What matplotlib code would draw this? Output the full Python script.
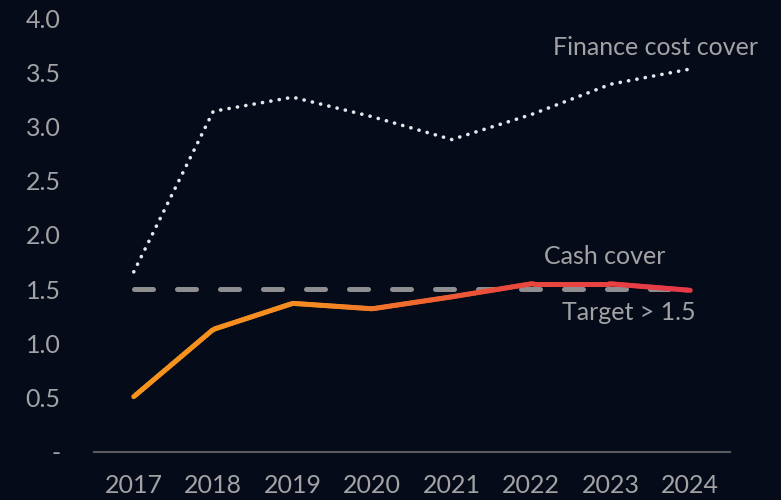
import numpy as np
import matplotlib.pyplot as plt
from matplotlib.collections import LineCollection
from matplotlib.colors import LinearSegmentedColormap

years = ["2017", "2018", "2019", "2020", "2021", "2022", "2023", "2024"]
finance_cost_cover = [1.66, 3.14, 3.27, 3.09, 2.88, 3.11, 3.39, 3.53]
cash_cover = [0.51, 1.13, 1.37, 1.32, 1.43, 1.55, 1.55, 1.49]
target = [1.5] * len(years)
y_ticks = [0, 0.5, 1.0, 1.5, 2.0, 2.5, 3.0, 3.5, 4.0]
y_labels = ["-", "0.5", "1.0", "1.5", "2.0", "2.5", "3.0", "3.5", "4.0"]

bg = "#050b18"
txt = "#a3a3a6"
fs = 18
plt.rcParams['font.family'] = ['Lato', 'DejaVu Sans']

fig = plt.figure(figsize=(7.81, 5), dpi=100, facecolor=bg)
ax = fig.add_axes([94 / 781, 48 / 500, 636 / 781, 434 / 500])
ax.set_facecolor(bg)

x = np.arange(len(years))

# target line
ax.plot(x, target, color="#8e8e90", lw=3.6, linestyle=(0, (3.8, 4.8)),
        dash_capstyle="round", zorder=2)

# finance cost cover, dotted
ax.plot(x, finance_cost_cover, color="#e6e6ea", lw=2.6, linestyle=(0, (0.05, 2.3)),
        dash_capstyle="round", zorder=3)

# cash cover with orange -> red gradient
n = 200
xs = np.linspace(0, len(years) - 1, n)
ys = np.interp(xs, x, cash_cover)
pts = np.array([xs, ys]).T.reshape(-1, 1, 2)
segs = np.concatenate([pts[:-1], pts[1:]], axis=1)
cmap = LinearSegmentedColormap.from_list("oc", ["#f7941d", "#f58a22", "#ea4a3c", "#e63a48"])
lc = LineCollection(segs, cmap=cmap, linewidth=3.6, capstyle="round", zorder=4)
lc.set_array(np.linspace(0, 1, n - 1))
ax.add_collection(lc)

ax.set_xlim(-0.5, len(years) - 0.5)
ax.set_ylim(0, 4.0)
ax.set_xticks(x)
ax.set_xticklabels(years)
ax.set_yticks(y_ticks)
ax.set_yticklabels(y_labels)
ax.tick_params(axis="both", length=0, colors=txt, labelsize=fs)
ax.tick_params(axis="y", pad=24)
ax.tick_params(axis="x", pad=16)

for s in ["top", "right", "left"]:
    ax.spines[s].set_visible(False)
ax.spines["bottom"].set_color("#5a5c62")
ax.spines["bottom"].set_linewidth(1.5)

ax.text(7.85, 3.73, "Finance cost cover", color=txt, fontsize=fs, ha="right", va="center",
        clip_on=False)
ax.text(6.69, 1.8, "Cash cover", color=txt, fontsize=fs, ha="right", va="center")
ax.text(7.07, 1.29, "Target > 1.5", color=txt, fontsize=fs, ha="right", va="center")

fig.savefig("out.png", dpi=100, facecolor=bg)
